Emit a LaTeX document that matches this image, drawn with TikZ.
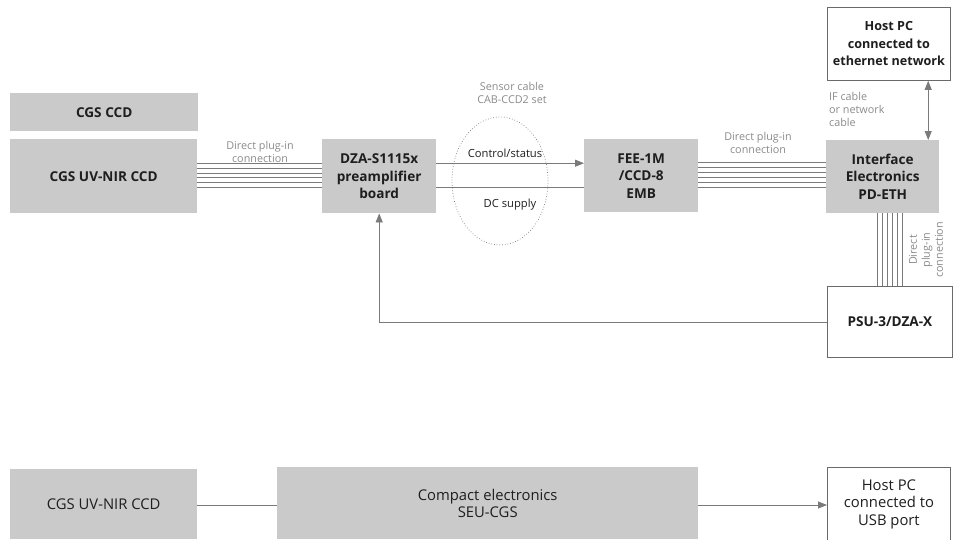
\documentclass[tikz,border=0pt]{standalone}
\usepackage{fontspec}
\setmainfont{Open Sans}
\usetikzlibrary{arrows.meta,shapes.geometric,calc}
\definecolor{boxgray}{HTML}{CACACA}
\definecolor{linegray}{HTML}{7A7A7A}
\definecolor{labelgray}{HTML}{8A8A8A}
\definecolor{txt}{HTML}{1E1E1E}
\definecolor{bordergray}{HTML}{6A6A6A}
\begin{document}
\begin{tikzpicture}[x=1pt,y=-1pt,
  graybox/.style={fill=boxgray, draw=none, text=txt, font=\fontsize{13.6}{17.5}\selectfont\bfseries, align=center, inner sep=0pt, anchor=north west},
  whitebox/.style={graybox, fill=white, draw=bordergray, line width=0.8pt},
  lightfont/.style={font=\fontsize{14.8}{17.5}\selectfont},
  conn/.style={draw=linegray, line width=0.8pt},
  arr/.style={conn, -{Triangle[length=9pt,width=7pt]}},
  dblarr/.style={conn, {Triangle[length=9pt,width=7pt]}-{Triangle[length=9pt,width=7pt]}},
  lbl/.style={text=labelgray, font=\fontsize{10.8}{13}\selectfont, align=center, inner sep=0pt},
]
\useasboundingbox (0,0) rectangle (964,539);

% top row boxes
\node[graybox, minimum width=188pt, minimum height=38pt] (ccd) at (10,93) {CGS CCD};
\node[graybox, minimum width=187pt, minimum height=74pt] (uv) at (10,139) {CGS UV-NIR CCD};
\node[graybox, minimum width=114pt, minimum height=74pt] (dza) at (322,139) {DZA-S1115x\\preamplifier\\board};
\node[graybox, minimum width=114pt, minimum height=73pt] (fee) at (584,139) {FEE-1M\\/CCD-8\\EMB};
\node[graybox, minimum width=113pt, minimum height=73pt] (ie) at (826,140) {Interface\\Electronics\\PD-ETH};
\node[whitebox, font=\fontsize{12.6}{17.5}\selectfont\bfseries, minimum width=123pt, minimum height=73pt] (host) at (827,7) {Host PC\\connected to\\ethernet network};
\node[whitebox, minimum width=125pt, minimum height=71pt] (psu) at (827,286) {PSU-3/DZA-X};

% sensor cable ellipse
\node[ellipse, draw=linegray, dotted, line width=0.7pt, minimum width=96pt, minimum height=128pt, inner sep=0pt] (cable) at (500,181) {};

% parallel plug-in lines
\foreach \d in {13,8.2,3.4,-1.4,-6.2,-11}
  \draw[conn, line width=0.6pt] ([yshift=\d pt]uv.east) -- ([yshift=\d pt]uv.east -| dza.west);
\foreach \d in {13.5,8.5,3.5,-1.5,-6.5,-11.5}
  \draw[conn, line width=0.6pt] ([yshift=\d pt]fee.east) -- ([yshift=\d pt]fee.east -| ie.west);
\foreach \d in {-5.5,-0.5,4.5,9.5,14.5,19.5}
  \draw[conn, line width=0.6pt] ([xshift=\d pt]ie.south) -- ([xshift=\d pt]ie.south |- psu.north);

% cable signals
\draw[arr] ([yshift=13pt]dza.east) -- ([yshift=13pt]dza.east -| fee.west);
\draw[conn] ([yshift=-11pt]dza.east) -- ([yshift=-11pt]dza.east -| fee.west);

% PSU feedback
\draw[arr] (psu.west) -| (dza.south);

% host link
\draw[dblarr] ([xshift=45.5pt]ie.north) -- ([xshift=45.5pt]ie.north |- host.south);

% labels
\node[lbl] (l1) at (260,151.5) {Direct plug-in\\connection};
\node[lbl] (l2) at (758,142.5) {Direct plug-in\\connection};
\node[lbl] (l3) at (512,93) {Sensor cable\\CAB-CCD2 set};
\node[lbl, text=txt, font=\fontsize{11.2}{13}\selectfont] (l4) at (505,153) {Control/status};
\node[lbl, text=txt, font=\fontsize{11.2}{13}\selectfont] (l5) at (510,205) {DC supply};
\node[lbl, align=left, anchor=west] (l6) at (829,109) {IF cable\\or network\\cable};
\node[lbl, rotate=90] (l7) at (926,250) {Direct\\plug-in\\connection};

% bottom row
\node[graybox, lightfont, minimum width=187pt, minimum height=70pt] (uv2) at (10,469) {CGS UV-NIR CCD};
\node[graybox, lightfont, minimum width=421pt, minimum height=72pt] (seu) at (277,467) {Compact electronics\\SEU-CGS};
\node[whitebox, lightfont, minimum width=123pt, minimum height=74pt] (host2) at (827,467) {Host PC\\connected to\\USB port};
\draw[conn] (uv2.east |- 0,505) -- (seu.west |- 0,505);
\draw[arr] (seu.east |- 0,505) -- (host2.west |- 0,505);
\end{tikzpicture}
\end{document}
